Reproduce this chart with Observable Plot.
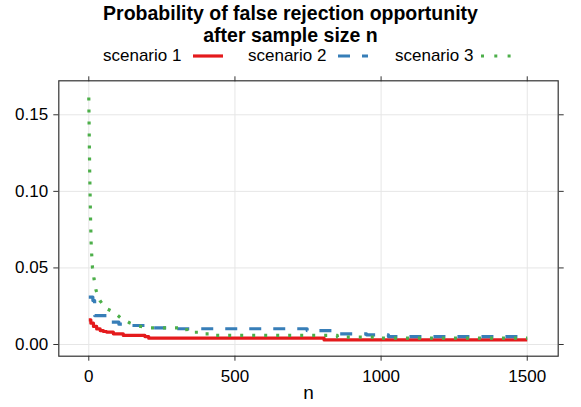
<!DOCTYPE html>
<html><head><meta charset="utf-8">
<script src="https://cdn.jsdelivr.net/npm/d3@7"></script>
<script src="https://cdn.jsdelivr.net/npm/@observablehq/plot@0.6"></script>
<style>
body{margin:0;background:#fff;font-family:"Liberation Sans",Arial,Helvetica,sans-serif;color:#000;}
#head{position:relative;width:581px;height:70px;}
.t{position:absolute;left:0;width:581px;text-align:center;font-weight:bold;font-size:19.5px;line-height:20px;white-space:nowrap;}
.lg{position:absolute;top:47px;font-size:17px;line-height:18px;white-space:nowrap;}
.sym{position:absolute;top:51px;}
#chart svg{display:block;}
</style></head>
<body>
<div id="head">
  <div class="t" style="top:3px">Probability of false rejection opportunity</div>
  <div class="t" style="top:25px">after sample size n</div>
  <span class="lg" style="left:103px">scenario 1</span>
  <svg class="sym" style="left:191px" width="34" height="10"><line x1="2" x2="32" y1="5" y2="5" stroke="#E41A1C" stroke-width="3.2"/></svg>
  <span class="lg" style="left:248px">scenario 2</span>
  <svg class="sym" style="left:336px" width="34" height="10"><line x1="2" x2="32" y1="5" y2="5" stroke="#377EB8" stroke-width="3.2" stroke-dasharray="12,12"/></svg>
  <span class="lg" style="left:395px">scenario 3</span>
  <svg class="sym" style="left:479px" width="34" height="10"><line x1="2" x2="32" y1="5" y2="5" stroke="#4DAF4A" stroke-width="3.2" stroke-dasharray="3,10.3"/></svg>
</div>
<div id="chart"></div>
<script>
const seriesNames = ["scenario 1", "scenario 2", "scenario 3"];
const colors = ["#E41A1C", "#377EB8", "#4DAF4A"];
const xTicks = [0, 500, 1000, 1500];
const yTicks = [0, 0.05, 0.10, 0.15];

const n1 = [0, 7, 16, 27, 39, 50, 61, 84, 118, 192, 205, 805, 1500];
const p1 = [0.0161, 0.0139, 0.0118, 0.0102, 0.0091, 0.0085, 0.0081, 0.0070, 0.0059, 0.0052, 0.0041, 0.0030, 0.0030];

const n2 = [0, 14, 20, 70, 103, 135, 210, 290, 747, 860, 950, 1025, 1470, 1500];
const p2 = [0.0309, 0.0287, 0.0189, 0.0146, 0.0133, 0.0124, 0.0109, 0.0103, 0.0091, 0.0070, 0.0063, 0.0052, 0.0037, 0.0037];

const n3 = [0, 2, 3, 4.5, 6, 8, 10, 12.5, 18, 25, 38, 58, 86, 110, 139, 172, 209, 335, 336, 375, 376, 415, 416, 850, 851, 1000, 1001, 1500];
const p3 = [0.1613, 0.1295, 0.1137, 0.0980, 0.0821, 0.0664, 0.0586, 0.0505, 0.0427, 0.0353, 0.0287, 0.0237, 0.0211, 0.0172, 0.0142, 0.0120, 0.0109, 0.0109, 0.0080, 0.0080, 0.0070, 0.0070, 0.0059, 0.0059, 0.0048, 0.0048, 0.0041, 0.0041];

const toRows = (ns, ps, s) => ns.map((n, i) => ({n, p: ps[i], s}));
const s1 = toRows(n1, p1, seriesNames[0]);
const s2 = toRows(n2, p2, seriesNames[1]);
const s3 = toRows(n3, p3, seriesNames[2]);

const blank = () => "";
const chart = Plot.plot({
  width: 581,
  height: 337,
  marginTop: 10.3,
  marginBottom: 51.3,
  marginLeft: 58.3,
  marginRight: 23.3,
  x: {domain: [-102.6, 1605.9]},
  y: {domain: [-0.00764, 0.1722]},
  style: {fontFamily: "Liberation Sans, Arial, Helvetica, sans-serif", fontSize: "17px", background: "white", color: "black", overflow: "visible"},
  marks: [
    Plot.gridX(xTicks, {stroke: "#e6e6e6", strokeOpacity: 1, strokeWidth: 1}),
    Plot.gridY(yTicks, {stroke: "#e6e6e6", strokeOpacity: 1, strokeWidth: 1}),
    Plot.line(s1, {x: "n", y: "p", curve: "step-after", stroke: colors[0], strokeWidth: 3.2, strokeLinecap: "butt"}),
    Plot.line(s2, {x: "n", y: "p", curve: "step-after", stroke: colors[1], strokeWidth: 3.2, strokeDasharray: "12,12", strokeLinecap: "butt"}),
    Plot.line(s3, {x: "n", y: "p", curve: "linear", stroke: colors[2], strokeWidth: 3.2, strokeDasharray: "3,9", strokeLinecap: "butt"}),
    Plot.frame({stroke: "#333", strokeWidth: 1.2}),
    Plot.axisX(xTicks, {anchor: "bottom", tickSize: 5, tickPadding: 9, label: null, stroke: "#333", tickFormat: d3.format("d")}),
    Plot.axisX(xTicks, {anchor: "top", tickSize: 5, label: null, stroke: "#333", tickFormat: blank}),
    Plot.axisY(yTicks, {anchor: "left", tickSize: 5, tickPadding: 5.6, label: null, stroke: "#333", tickFormat: d3.format(".2f")}),
    Plot.axisY(yTicks, {anchor: "right", tickSize: 5, label: null, stroke: "#333", tickFormat: blank}),
    Plot.text(["n"], {frameAnchor: "bottom", dy: 36.8, text: d => d, fontSize: 19, lineAnchor: "middle"})
  ]
});
document.getElementById("chart").appendChild(chart);
</script>
</body></html>
